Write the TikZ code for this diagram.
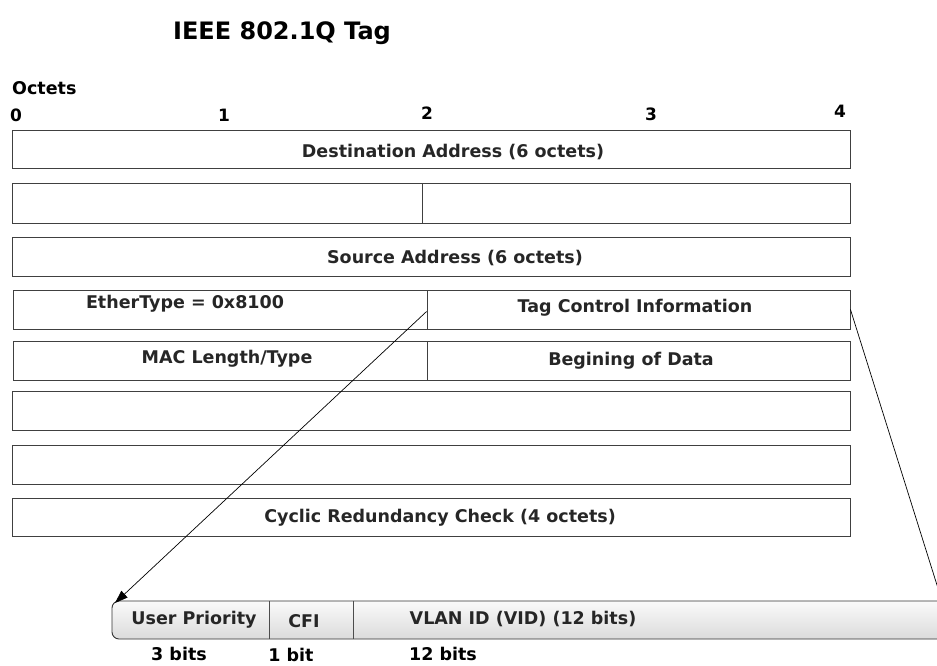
\documentclass[tikz,border=0pt]{standalone}
\usepackage{fontspec}
\setmainfont{DejaVu Sans}
\usetikzlibrary{arrows.meta}
\tikzset{
  cell/.style={draw=black!75, line width=0.9pt, inner sep=0pt, minimum height=38pt},
  celltext/.style={font=\fontsize{17.5}{20}\selectfont\bfseries, text=black!85, inner sep=0pt},
  octnum/.style={font=\fontsize{17}{20}\selectfont\bfseries, inner sep=0pt},
  bitlabel/.style={font=\fontsize{17.5}{20}\selectfont\bfseries, inner sep=0pt},
  ptr/.style={draw=black, line width=0.7pt},
}
\begin{document}
\begin{tikzpicture}[x=1pt,y=-1pt]
\clip (0,0) rectangle (937,665);
\fill[white] (0,0) rectangle (937,665);

% heading and octet scale
\node[font=\fontsize{24}{28}\selectfont\bfseries, inner sep=0pt] (title) at (282,33) {IEEE 802.1Q Tag};
\node[font=\fontsize{17.5}{20}\selectfont\bfseries, inner sep=0pt, anchor=west] (octets) at (12,88) {Octets};
\node[octnum] (o0) at (16,115) {0};
\node[octnum] (o1) at (224,115) {1};
\node[octnum] (o2) at (427,113) {2};
\node[octnum] (o3) at (651,114) {3};
\node[octnum] (o4) at (840,111) {4};

% frame rows
\node[cell, minimum width=838pt] (dst) at (431,149) {};
\node[cell, minimum width=410pt, minimum height=40pt] (dstb) at (217,203) {};
\node[cell, minimum width=428pt, minimum height=40pt] (dstc) at (636,203) {};
\node[cell, minimum width=838pt, minimum height=39pt] (src) at (431,256.5) {};
\node[cell, minimum width=414pt, minimum height=39pt] (eth) at (220,309.5) {};
\node[cell, minimum width=423pt, minimum height=39pt] (tci) at (638.5,309.5) {};
\node[cell, minimum width=414pt, minimum height=39pt] (mac) at (220,361) {};
\node[cell, minimum width=423pt, minimum height=39pt] (bod) at (638.5,361) {};
\node[cell, minimum width=838pt, minimum height=39pt] (data1) at (431,410.5) {};
\node[cell, minimum width=838pt, minimum height=39pt] (data2) at (431,464.5) {};
\node[cell, minimum width=838pt, minimum height=38pt] (crc) at (431,517) {};

% row captions
\node[celltext] (dsttx) at (453,152) {Destination Address (6 octets)};
\node[celltext] (srctx) at (455,258) {Source Address (6 octets)};
\node[celltext] (ethtx) at (185,304) {EtherType = 0x8100};
\node[celltext] (tcitx) at (635,308) {Tag Control Information};
\node[celltext] (mactx) at (227,359) {MAC Length/Type};
\node[celltext] (bodtx) at (631,361) {Begining of Data};
\node[celltext] (crctx) at (440,518) {Cyclic Redundancy Check (4 octets)};

% expanded tag control field
\path[draw=black!80, line width=0.9pt, rounded corners=7pt, top color=gray!4, bottom color=gray!28]
  (112,601) rectangle (990,639);
\node[inner sep=0pt, minimum width=157pt, minimum height=38pt] (up) at (190.5,620) {};
\node[inner sep=0pt, minimum width=84pt, minimum height=38pt] (cfi) at (311,620) {};
\node[inner sep=0pt, minimum width=637pt, minimum height=38pt, anchor=west] (vid) at (353,620) {};
\draw[black!70, line width=0.8pt] (up.north east) -- (up.south east);
\draw[black!70, line width=0.8pt] (cfi.north east) -- (cfi.south east);
\node[celltext] (uptx) at (194,620) {User Priority};
\node[celltext] (cfitx) at (304,621) {CFI};
\node[celltext] (vidtx) at (523,619) {VLAN ID (VID) (12 bits)};
\node[bitlabel] (b3) at (179,654) {3 bits};
\node[bitlabel] (b1) at (291,655) {1 bit};
\node[bitlabel] (b12) at (443,654) {12 bits};

% pointers from the tag control field to its expansion
\coordinate (uptip) at (115,603);
\coordinate (vidend) at (942,601);
\draw[ptr, -{Triangle[length=13pt,width=9pt]}] (tci.west) ++(0,2) -- (uptip);
\draw[ptr] (tci.east) -- (vidend);
\end{tikzpicture}
\end{document}
